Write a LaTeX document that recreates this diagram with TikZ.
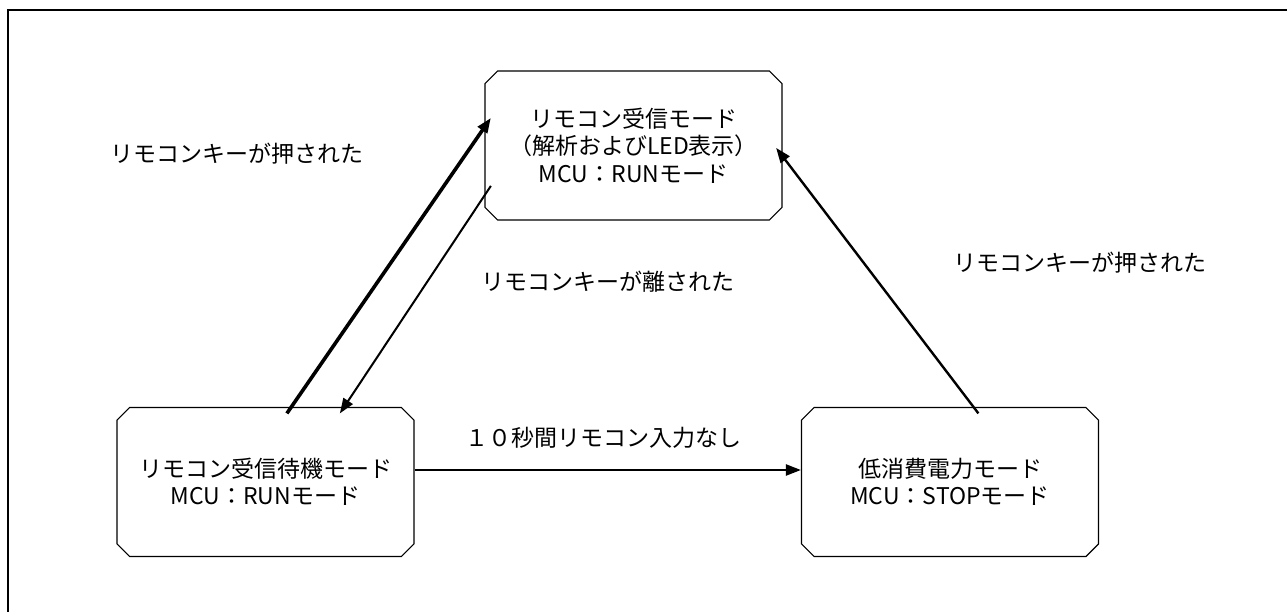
\documentclass[tikz,border=0pt]{standalone}
\usepackage{fontspec}
\setmainfont{Noto Sans CJK JP}
\usetikzlibrary{arrows.meta,shapes.misc}
\begin{document}
\begin{tikzpicture}[x=1pt,y=-1pt,
  txt/.style={font=\fontsize{23}{27.5}\selectfont, align=center, inner sep=0pt},
  box/.style={txt, chamfered rectangle, chamfered rectangle xsep=9pt, draw, line width=1.2pt,
    minimum width=297pt, minimum height=149pt},
  arr/.style={-{Triangle[length=15pt,width=11pt]}, line width=#1},
  arr/.default=2.4pt]
\useasboundingbox (0,0) rectangle (1287,612);
\draw[line width=2pt] (8,613) -- (8,10) -- (1288,10);

\node[box] (T) at (633.5,145.5) {リモコン受信モード\\（解析およびLED表示）\\MCU：RUNモード};
\node[box] (L) at (265.5,482) {リモコン受信待機モード\\MCU：RUNモード};
\node[box] (R) at (950,482) {低消費電力モード\\MCU：STOPモード};

\draw[arr=3.6pt] ([xshift=164pt]L.north west) -- ([yshift=-41pt]T.north west);
\draw[arr=2pt] ([yshift=-109pt]T.north west) -- ([xshift=217pt]L.north west);
\draw[arr] ([yshift=12pt]L.east) -- ([yshift=12pt]R.west);
\draw[arr] ([xshift=171pt]R.north west) -- ([yshift=-71pt]T.north east);

\node[txt] (l1) at (237,154) {リモコンキーが押された};
\node[txt] (l2) at (608,282) {リモコンキーが離された};
\node[txt] (l3) at (1080,263) {リモコンキーが押された};
\node[txt] (l4) at (603,438) {１０秒間リモコン入力なし};
\end{tikzpicture}
\end{document}
